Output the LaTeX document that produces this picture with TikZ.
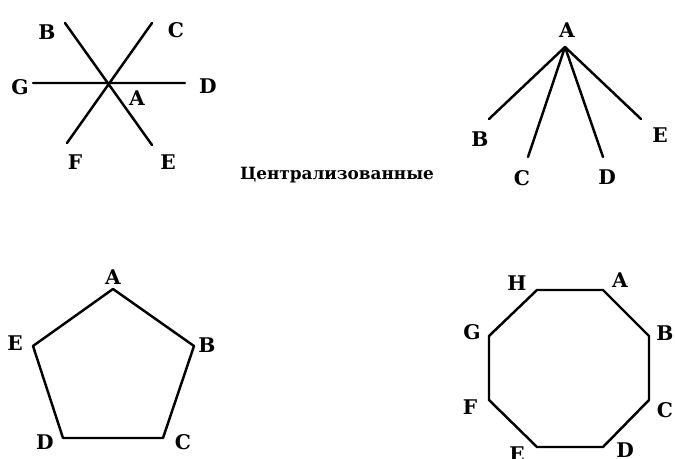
\documentclass[tikz,border=0pt]{standalone}
\usepackage{fontspec}
\setmainfont{DejaVu Serif}
\usetikzlibrary{positioning}
\tikzset{
  lbl/.style={font=\bfseries\fontsize{11.5}{13}\selectfont, inner sep=0pt},
  titletext/.style={font=\bfseries\fontsize{9.6}{11}\selectfont, inner sep=0pt},
  link/.style={line width=1.4pt, line cap=round, line join=round},
}

\begin{document}
\begin{tikzpicture}[x=0.02cm, y=-0.02cm]
  \useasboundingbox (0,0) rectangle (675,459);

  % star: lines crossing in A
  \coordinate (sA) at (108,83);
  \foreach \n/\x/\y in {B/65/23, C/152/23, D/185/83, E/152/145, F/67/143, G/33/83}{
    \coordinate (s\n) at (\x,\y);}
  \draw[link] (sB) -- (sE) (sC) -- (sF) (sG) -- (sD);
  \foreach \n/\x/\y in {B/47/32, C/176/30, D/208/86, E/168/162, F/75/162, G/20/87}{
    \node[lbl] (ls\n) at (\x,\y) {\n};}
  \node[lbl] (lsA) at (137,98) {A};

  % tree: A on top
  \coordinate (tA) at (565,47);
  \foreach \n/\x/\y in {B/489/119, C/528/157, D/603/157, E/641/119}{
    \coordinate (t\n) at (\x,\y);
    \draw[link] (tA) -- (t\n);}
  \node[lbl] (ltA) at (567,30) {A};
  \foreach \n/\x/\y in {B/480/139, C/522/178, D/607/177, E/660/135}{
    \node[lbl] (lt\n) at (\x,\y) {\n};}

  \node[titletext] (title) at (337,175) {Централизованные};

  % ring of five
  \foreach \n/\x/\y in {A/113/289, B/194/346, C/163/438, D/63/438, E/33/346}{
    \coordinate (p\n) at (\x,\y);}
  \draw[link] (pA) -- (pB) -- (pC) -- (pD) -- (pE) -- cycle;
  \foreach \n/\x/\y in {A/113/277, B/207/345, C/183/442, D/45/442, E/15/343}{
    \node[lbl] (lp\n) at (\x,\y) {\n};}

  % ring of eight
  \foreach \n/\x/\y in {A/603/290, B/649/336, C/649/400, D/603/447,
                        E/537/447, F/489/400, G/489/336, H/537/290}{
    \coordinate (o\n) at (\x,\y);}
  \draw[link] (oA) -- (oB) -- (oC) -- (oD) -- (oE) -- (oF) -- (oG) -- (oH) -- cycle;
  \foreach \n/\x/\y in {A/620/280, B/665/333, C/665/410, D/625/450,
                        E/517/454, F/470/407, G/472/332, H/517/283}{
    \node[lbl] (lo\n) at (\x,\y) {\n};}
\end{tikzpicture}
\end{document}
